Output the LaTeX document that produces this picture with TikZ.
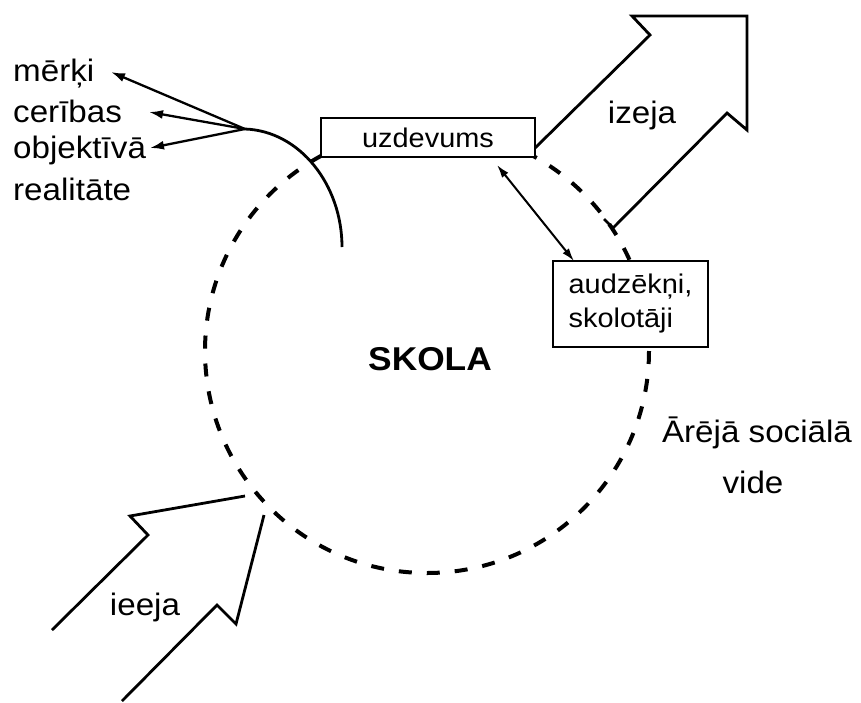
\documentclass[tikz,border=0pt]{standalone}
\usepackage{fontspec}
\setmainfont{Liberation Sans}[FakeStretch=1.07]
\usetikzlibrary{arrows.meta}
\tikzset{
  lbl/.style={inner sep=0pt, font=\fontsize{31}{37}\selectfont},
  boxlbl/.style={draw, line width=2.2pt, fill=white, inner sep=0pt, font=\fontsize{27}{34}\selectfont},
  env/.style={line width=4pt, dash pattern=on 13pt off 15pt},
  wall/.style={line width=2.8pt},
  bigarrow/.style={line width=2.8pt, line join=miter},
  pointer/.style={line width=2.3pt, -{Latex[length=14pt,width=9pt]}},
  dblpointer/.style={line width=2pt, {Latex[length=13pt,width=8pt]}-{Latex[length=13pt,width=8pt]}}
}
\begin{document}
\begin{tikzpicture}[x=1pt,y=-1pt]
\useasboundingbox (0,0) rectangle (861,702);
% dashed environment circle
\draw[env] (427,351) circle (222);
% solid arc
\coordinate (src) at (245,129);
\draw[wall] (src) .. controls (300,131) and (342,185) .. (342,247);
% left labels
\node[lbl, anchor=base west] (merki) at (13,81) {mērķi};
\node[lbl, anchor=base west] (ceribas) at (13,122) {cerības};
\node[lbl, anchor=base west] (objektiva) at (13,158) {objektīvā};
\node[lbl, anchor=base west] (realitate) at (13,200) {realitāte};
\coordinate (tA) at (111,72);
\coordinate (tB) at (149,112);
\coordinate (tC) at (150,148);
\draw[pointer] (src) -- (tA);
\draw[pointer] (src) -- (tB);
\draw[pointer] (src) -- (tC);
% boxes
\node[boxlbl, minimum width=214pt, minimum height=39pt] (uzd) at (428,137.5) {uzdevums};
\node[boxlbl, minimum width=155pt, minimum height=86pt, align=left] (aud) at (630.5,304) {audzēkņi,\\skolotāji};
\coordinate (dA) at (497,165);
\coordinate (dB) at (574,261);
\draw[dblpointer] (dA) -- (dB);
% centre label
\node[inner sep=0pt, font=\fontsize{33}{40}\selectfont\bfseries, anchor=base] (skola) at (430,370) {SKOLA};
% izeja arrow
\draw[bigarrow] (535,148) -- (650,35) -- (632,16) -- (747,16) -- (747,130) -- (727,113) -- (613,228) -- (604,219);
\node[lbl, anchor=base] (izeja) at (642,123) {izeja};
% ieeja arrow
\draw[bigarrow] (52,630) -- (148,535) -- (130,516) -- (245,496);
\draw[bigarrow] (122,701) -- (217,605) -- (236,624) -- (264,515);
\node[lbl, anchor=base] (ieeja) at (145,615) {ieeja};
% environment label
\node[lbl, anchor=base] (areja) at (757,442) {Ārējā sociālā};
\node[lbl, anchor=base] (vide) at (753,493) {vide};
\end{tikzpicture}
\end{document}
